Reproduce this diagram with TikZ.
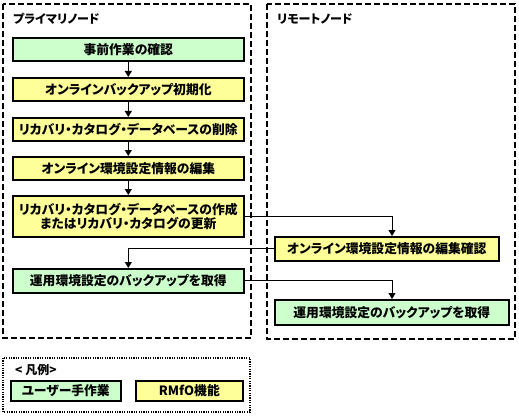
\documentclass[tikz,border=0pt]{standalone}
\usepackage{fontspec}
\setmainfont{Noto Sans CJK JP}[RawFeature=+palt]
\usetikzlibrary{arrows.meta}
\definecolor{ugreen}{HTML}{CCFFCC}
\definecolor{ryellow}{HTML}{FFFF99}
\begin{document}
\begin{tikzpicture}[x=1pt,y=-1pt,
  box/.style={draw=black,line width=1.6pt,anchor=north west,inner sep=0pt,
    font=\fontsize{12.8}{15}\selectfont\bfseries,align=center},
  gbox/.style={box,fill=ugreen},
  ybox/.style={box,fill=ryellow},
  region/.style={draw=black,line width=1.3pt,dash pattern=on 6pt off 3pt},
  conn/.style={draw=black,line width=0.8pt,-{Triangle[length=6pt,width=7pt]}},
  title/.style={anchor=west,inner sep=0pt,font=\fontsize{12}{14}\selectfont\bfseries}]
\useasboundingbox (0,0) rectangle (519,417);
\fill[white] (0,0) rectangle (519,417);
% regions
\draw[region] (3,4) rectangle (251,338);
\draw[region] (267,4) rectangle (515,339);
\draw[draw=black,line width=1.3pt,dash pattern=on 1.2pt off 1.2pt] (3,358) rectangle (250,412);
\node[title] (tp) at (13,19) {プライマリノード};
\node[title] (tr) at (277,19) {リモートノード};
\node[title] (tl) at (15,370) {< 凡例>};
% primary boxes
\node[gbox,minimum width=231pt,minimum height=23pt] (b1) at (12,37) {事前作業の確認};
\node[ybox,minimum width=231pt,minimum height=23pt] (b2) at (12,77) {オンラインバックアップ初期化};
\node[ybox,minimum width=231pt,minimum height=23pt] (b3) at (12,117) {リカバリ・カタログ・データベースの削除};
\node[ybox,minimum width=231pt,minimum height=23pt] (b4) at (12,156) {オンライン環境設定情報の編集};
\node[ybox,minimum width=231pt,minimum height=41pt] (b5) at (12,195) {リカバリ・カタログ・データベースの作成\\[-1pt]またはリカバリ・カタログの更新};
\node[gbox,minimum width=231pt,minimum height=24pt] (b6) at (12,268) {運用環境設定のバックアップを取得};
% remote boxes
\node[ybox,minimum width=224pt,minimum height=24pt] (r1) at (274,236) {オンライン環境設定情報の編集確認};
\node[gbox,minimum width=234pt,minimum height=25pt] (r2) at (274,299) {運用環境設定のバックアップを取得};
% legend boxes
\node[gbox,minimum width=110pt,minimum height=20pt] (lg) at (10,380) {ユーザー手作業};
\node[ybox,minimum width=107pt,minimum height=20pt] (ly) at (135,380) {RMfO機能};
% connectors
\draw[conn] (b1) -- (b2);
\draw[conn] (b2) -- (b3);
\draw[conn] (b3) -- (b4);
\draw[conn] (b4) -- (b5);
\coordinate (t1) at (392,236);
\coordinate (t2) at (392,299);
\draw[conn] (b5.east) -| (t1);
\draw[conn] (r1.west) -| (b6.north);
\draw[conn] (b6.east) -| (t2);
\end{tikzpicture}
\end{document}
